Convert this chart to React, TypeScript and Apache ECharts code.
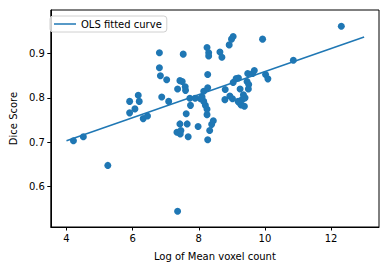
import React, { useEffect, useRef } from "react";
import * as echarts from "echarts";

const xTicks = [4, 6, 8, 10, 12];
const yTicks = [0.6, 0.7, 0.8, 0.9];

const logVoxel = [
  4.21, 4.51, 5.25, 5.91, 5.91, 6.07, 6.17, 6.2, 6.32, 6.45,
  6.81, 6.81, 6.84, 6.88, 7.03, 7.09, 7.36, 7.43, 7.5, 7.59,
  7.6, 7.53, 7.36, 7.34, 7.44, 7.43, 7.46, 7.68, 7.65, 7.62,
  7.75, 7.73, 7.89, 8.05, 7.98, 8.27, 8.33, 8.39, 8.44, 8.25,
  8.25, 8.2, 8.15, 8.1, 8.15, 8.27, 8.27, 8.25, 8.3, 8.3,
  8.64, 8.7, 8.92, 8.99, 9.04, 9.93, 10.86, 12.31, 8.8, 8.79,
  8.94, 9.02, 9.04, 9.13, 9.2, 9.25, 9.35, 9.31, 9.23, 9.28,
  9.19, 9.46, 9.51, 9.5, 9.48, 9.63, 9.68, 10.02, 10.09, 9.38,
  9.4,
];
const diceScore = [
  0.703, 0.712, 0.647, 0.792, 0.766, 0.775, 0.806, 0.792, 0.753, 0.759,
  0.902, 0.868, 0.85, 0.802, 0.841, 0.792, 0.82, 0.839, 0.837, 0.825,
  0.817, 0.899, 0.543, 0.722, 0.718, 0.741, 0.726, 0.712, 0.741, 0.764,
  0.783, 0.799, 0.799, 0.798, 0.735, 0.705, 0.726, 0.74, 0.748, 0.762,
  0.774, 0.783, 0.792, 0.802, 0.815, 0.823, 0.853, 0.914, 0.902, 0.895,
  0.904, 0.892, 0.92, 0.933, 0.939, 0.933, 0.885, 0.962, 0.819, 0.796,
  0.804, 0.798, 0.835, 0.844, 0.845, 0.82, 0.807, 0.796, 0.789, 0.784,
  0.792, 0.837, 0.83, 0.82, 0.855, 0.855, 0.862, 0.853, 0.843, 0.781,
  0.8,
];
const fitX = [4, 13];
const fitY = [0.703, 0.938];

const FONT = "DejaVu Sans";
const BLUE = "#1f77b4";

export default function App() {
  const ref = useRef<HTMLDivElement>(null);
  useEffect(() => {
    if (!ref.current) return;
    const chart = echarts.init(ref.current, null, { renderer: "svg" });
    chart.setOption({
      animation: false,
      textStyle: { fontFamily: FONT },
      grid: {
        left: 44,
        top: 10,
        right: 10,
        bottom: 38,
        show: true,
        borderColor: "#000",
        borderWidth: 1,
        backgroundColor: "transparent",
      },
      legend: {
        show: true,
        left: 50,
        top: 16,
        data: [{ name: "OLS fitted curve", icon: "rect" }],
        itemWidth: 22,
        itemHeight: 1.5,
        itemGap: 6,
        padding: [3, 5, 3, 4],
        borderColor: "#d0d0d0",
        borderWidth: 1,
        borderRadius: 3,
        backgroundColor: "rgba(255,255,255,0.8)",
        textStyle: { fontFamily: FONT, fontSize: 10, color: "#000" },
      },
      xAxis: {
        type: "value",
        min: 3.526,
        max: 13.45,
        name: "Log of Mean voxel count",
        nameLocation: "middle",
        nameGap: 24,
        nameTextStyle: { fontFamily: FONT, fontSize: 10, color: "#000" },
        splitLine: { show: false },
        axisLine: { show: true, onZero: false, lineStyle: { color: "#000", width: 1 } },
        axisTick: {
          show: true,
          inside: false,
          length: 3.5,
          customValues: xTicks,
          lineStyle: { color: "#000" },
        },
        axisLabel: {
          customValues: xTicks,
          margin: 6,
          fontFamily: FONT,
          fontSize: 10,
          color: "#000",
        },
      },
      yAxis: {
        type: "value",
        min: 0.5075,
        max: 0.999,
        name: "Dice Score",
        nameLocation: "middle",
        nameGap: 29,
        nameTextStyle: { fontFamily: FONT, fontSize: 10, color: "#000" },
        splitLine: { show: false },
        axisLine: { show: true, onZero: false, lineStyle: { color: "#000", width: 1 } },
        axisTick: {
          show: true,
          inside: false,
          length: 3.5,
          customValues: yTicks,
          lineStyle: { color: "#000" },
        },
        axisLabel: {
          customValues: yTicks,
          margin: 6,
          fontFamily: FONT,
          fontSize: 10,
          color: "#000",
          formatter: (v: number) => v.toFixed(1),
        },
      },
      series: [
        {
          type: "scatter",
          name: "data",
          data: logVoxel.map((x, i) => [x, diceScore[i]]),
          symbolSize: 7,
          itemStyle: { color: BLUE, opacity: 1 },
          z: 2,
        },
        {
          type: "line",
          name: "OLS fitted curve",
          data: fitX.map((x, i) => [x, fitY[i]]),
          showSymbol: false,
          symbol: "none",
          lineStyle: { color: BLUE, width: 1.5 },
          itemStyle: { color: BLUE },
          z: 3,
        },
      ],
    });
    return () => chart.dispose();
  }, []);
  return (
    <div
      ref={ref}
      style={{ position: "absolute", left: 0, top: 0, width: 389, height: 266 }}
    />
  );
}
